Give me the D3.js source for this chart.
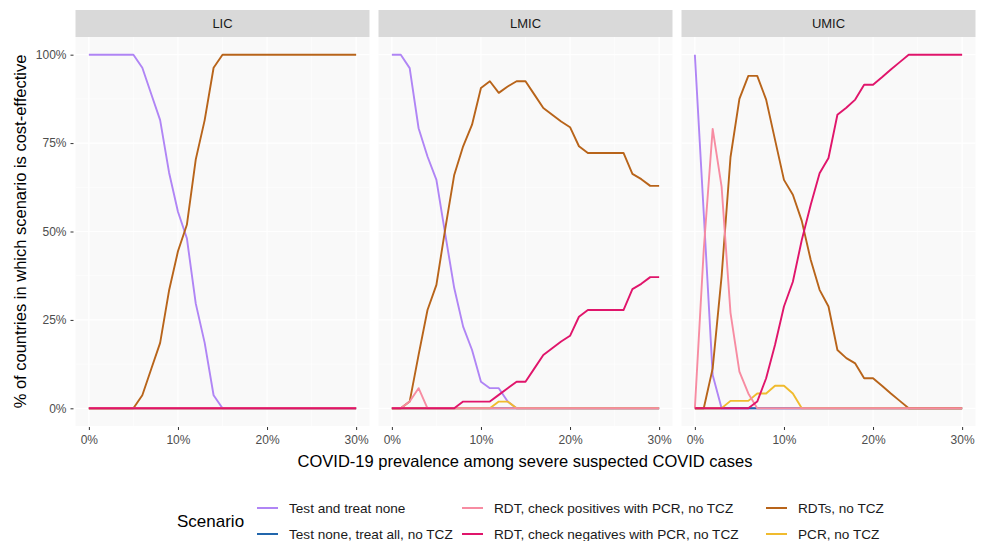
<!DOCTYPE html>
<html>
<head>
<meta charset="utf-8">
<script src="https://cdn.jsdelivr.net/npm/d3@7"></script>
<style>
  body { margin: 0; background: #fff; }
  svg { font-family: "Liberation Sans", Arial, sans-serif; }
</style>
</head>
<body>
<svg id="chart" width="984" height="541"></svg>
<script>
// prevalence values (%) along the x axis
var prevalence = [0, 1, 2, 3, 4, 5, 6, 7, 8, 9, 10, 11, 12, 13, 14, 15,
                  16, 17, 18, 19, 20, 21, 22, 23, 24, 25, 26, 27, 28, 29, 30];
var panels = ["LIC", "LMIC", "UMIC"];
var scenarios = [
  "Test and treat none",
  "Test none, treat all, no TCZ",
  "RDT, check positives with PCR, no TCZ",
  "RDT, check negatives with PCR, no TCZ",
  "RDTs, no TCZ",
  "PCR, no TCZ"
];
var xTicks = [0, 10, 20, 30];
var yTicks = [0, 25, 50, 75, 100];

// % of countries, one array per panel and scenario
var licNone = [100, 100, 100, 100, 100, 100, 96.3, 88.9, 81.5, 66.7, 55.6, 48.1, 29.6, 18.5, 3.7, 0,
               0, 0, 0, 0, 0, 0, 0, 0, 0, 0, 0, 0, 0, 0, 0];
var licRdt = [0, 0, 0, 0, 0, 0, 3.7, 11.1, 18.5, 33.3, 44.4, 51.9, 70.4, 81.5, 96.3, 100,
              100, 100, 100, 100, 100, 100, 100, 100, 100, 100, 100, 100, 100, 100, 100];
var licZero = [0, 0, 0, 0, 0, 0, 0, 0, 0, 0, 0, 0, 0, 0, 0, 0,
               0, 0, 0, 0, 0, 0, 0, 0, 0, 0, 0, 0, 0, 0, 0];

var lmicNone = [100, 100, 96.2, 79.2, 71.2, 64.6, 49.1, 34, 23.1, 16.5, 7.5, 5.7, 5.7, 1.9, 0, 0,
                0, 0, 0, 0, 0, 0, 0, 0, 0, 0, 0, 0, 0, 0, 0];
var lmicTreatAll = [0, 0, 0, 0, 0, 0, 0, 0, 0, 0, 0, 0, 0, 0, 0, 0,
                    0, 0, 0, 0, 0, 0, 0, 0, 0, 0, 0, 0, 0, 0, 0];
var lmicPos = [0, 0, 1.9, 5.7, 0, 0, 0, 0, 0, 0, 0, 0, 0, 0, 0, 0,
               0, 0, 0, 0, 0, 0, 0, 0, 0, 0, 0, 0, 0, 0, 0];
var lmicNeg = [0, 0, 0, 0, 0, 0, 0, 0, 1.9, 1.9, 1.9, 1.9, 3.8, 5.7, 7.5, 7.5,
               11.3, 15.1, 17, 18.9, 20.5, 25.9, 27.8, 27.8, 27.8, 27.8, 27.8, 33.7, 35.2, 37.1, 37.1];
var lmicRdt = [0, 0, 1.9, 15.1, 27.8, 34.9, 50.9, 66, 74.1, 80.2, 90.6, 92.5, 89.2, 91, 92.5, 92.5,
               88.7, 84.9, 83, 81.1, 79.5, 74.1, 72.2, 72.2, 72.2, 72.2, 72.2, 66.3, 64.8, 62.9, 62.9];
var lmicPcr = [0, 0, 0, 0, 0, 0, 0, 0, 0, 0, 0, 0, 1.9, 1.9, 0, 0,
               0, 0, 0, 0, 0, 0, 0, 0, 0, 0, 0, 0, 0, 0, 0];

var umicNone = [100, 55, 9.4, 0, 0, 0, 0, 0, 0, 0, 0, 0, 0, 0, 0, 0,
                0, 0, 0, 0, 0, 0, 0, 0, 0, 0, 0, 0, 0, 0, 0];
var umicTreatAll = [0, 0, 0, 0, 0, 0, 0, 0, 0, 0, 0, 0, 0, 0, 0, 0,
                    0, 0, 0, 0, 0, 0, 0, 0, 0, 0, 0, 0, 0, 0, 0];
var umicPos = [0, 45, 79, 62.7, 27, 10.4, 4.2, 0, 0, 0, 0, 0, 0, 0, 0, 0,
               0, 0, 0, 0, 0, 0, 0, 0, 0, 0, 0, 0, 0, 0, 0];
var umicNeg = [0, 0, 0, 0, 0, 0, 0, 1.9, 8.5, 18, 28.8, 35.8, 47.6, 57.5, 66.5, 70.8,
               83, 85, 87.3, 91.5, 91.5, 93.6, 95.8, 97.9, 100, 100, 100, 100, 100, 100, 100];
var umicRdt = [0, 0, 11.3, 37.3, 71, 87.5, 94, 94, 87.3, 75.9, 64.6, 60.4, 53, 42, 33.5, 28.8,
               16.5, 14.2, 12.7, 8.5, 8.5, 6.4, 4.2, 2.1, 0, 0, 0, 0, 0, 0, 0];
var umicPcr = [0, 0, 0, 0, 2.1, 2.1, 2.1, 4.2, 4.2, 6.4, 6.4, 4.2, 0, 0, 0, 0,
               0, 0, 0, 0, 0, 0, 0, 0, 0, 0, 0, 0, 0, 0, 0];

// values per panel, in scenario order
var panelValues = {
  LIC: [licNone, licZero, licZero, licZero, licRdt, licZero],
  LMIC: [lmicNone, lmicTreatAll, lmicPos, lmicNeg, lmicRdt, lmicPcr],
  UMIC: [umicNone, umicTreatAll, umicPos, umicNeg, umicRdt, umicPcr]
};

var colors = ["#b085f5", "#2166ac", "#f78ca2", "#e0156b", "#b8641a", "#f0bb2e"];
// order the lines are painted in (last is on top)
var drawOrder = [0, 1, 5, 4, 2, 3];

var svg = d3.select("#chart");
var panelLeft = 75.5, panelWidth = 294, panelGap = 9;
var plotTop = 37, plotBottom = 426, stripTop = 10;

var y = d3.scaleLinear().domain([-5, 105]).range([plotBottom, plotTop]);

panels.forEach(function (name, i) {
  var x0 = panelLeft + i * (panelWidth + panelGap);
  var x = d3.scaleLinear().domain([-1.5, 31.5]).range([x0, x0 + panelWidth]);
  var g = svg.append("g");

  // strip
  g.append("rect").attr("x", x0).attr("y", stripTop)
    .attr("width", panelWidth).attr("height", plotTop - stripTop)
    .attr("fill", "#d9d9d9");
  g.append("text").attr("x", x0 + panelWidth / 2).attr("y", (stripTop + plotTop) / 2)
    .attr("dy", "0.35em").attr("text-anchor", "middle")
    .attr("font-size", 13).attr("fill", "#1a1a1a").text(name);

  // panel background + grid
  g.append("rect").attr("x", x0).attr("y", plotTop)
    .attr("width", panelWidth).attr("height", plotBottom - plotTop)
    .attr("fill", "#f9f9f9");
  [12.5, 37.5, 62.5, 87.5].forEach(function (v) {
    g.append("line").attr("x1", x0).attr("x2", x0 + panelWidth)
      .attr("y1", y(v)).attr("y2", y(v)).attr("stroke", "#fff").attr("stroke-width", 0.6);
  });
  [5, 15, 25].forEach(function (v) {
    g.append("line").attr("x1", x(v)).attr("x2", x(v))
      .attr("y1", plotTop).attr("y2", plotBottom).attr("stroke", "#fff").attr("stroke-width", 0.6);
  });
  yTicks.forEach(function (v) {
    g.append("line").attr("x1", x0).attr("x2", x0 + panelWidth)
      .attr("y1", y(v)).attr("y2", y(v)).attr("stroke", "#fff").attr("stroke-width", 1.2);
  });
  xTicks.forEach(function (v) {
    g.append("line").attr("x1", x(v)).attr("x2", x(v))
      .attr("y1", plotTop).attr("y2", plotBottom).attr("stroke", "#fff").attr("stroke-width", 1.2);
  });

  // lines
  var line = d3.line()
    .x(function (d, j) { return x(prevalence[j]); })
    .y(function (d) { return y(d); });
  drawOrder.forEach(function (s) {
    g.append("path").datum(panelValues[name][s])
      .attr("d", line).attr("fill", "none")
      .attr("stroke", colors[s]).attr("stroke-width", 1.9)
      .attr("stroke-linejoin", "round");
  });

  // x axis
  var xAxis = d3.axisBottom(x).tickValues(xTicks).tickSize(3).tickPadding(5)
    .tickFormat(function (d) { return d + "%"; });
  var xg = g.append("g").attr("transform", "translate(0," + (plotBottom + 1) + ")").call(xAxis);
  xg.select(".domain").remove();
  xg.selectAll("line").attr("stroke", "#333");
  xg.selectAll("text").attr("font-size", 12).attr("fill", "#4d4d4d")
    .attr("font-family", "Liberation Sans, Arial, sans-serif");

  if (i === 0) {
    var yAxis = d3.axisLeft(y).tickValues(yTicks).tickSize(3).tickPadding(4)
      .tickFormat(function (d) { return d + "%"; });
    var yg = g.append("g").attr("transform", "translate(" + (x0 - 2) + ",0)").call(yAxis);
    yg.select(".domain").remove();
    yg.selectAll("line").attr("stroke", "#333");
    yg.selectAll("text").attr("font-size", 12).attr("fill", "#4d4d4d")
      .attr("font-family", "Liberation Sans, Arial, sans-serif");
  }
});

// axis titles
svg.append("text").attr("x", 525).attr("y", 467).attr("text-anchor", "middle")
  .attr("font-size", 16.5).attr("fill", "#000")
  .text("COVID-19 prevalence among severe suspected COVID cases");
svg.append("text").attr("transform", "translate(26," + ((plotTop + plotBottom) / 2) + ") rotate(-90)")
  .attr("text-anchor", "middle").attr("font-size", 16.5).attr("fill", "#000")
  .text("% of countries in which scenario is cost-effective");

// legend
var legend = svg.append("g");
legend.append("text").attr("x", 177).attr("y", 521).attr("dy", "0.35em")
  .attr("font-size", 17).attr("fill", "#000").text("Scenario");
var colX = [257, 462, 766];
var rowY = [508, 534];
scenarios.forEach(function (s, k) {
  var cx = colX[Math.floor(k / 2)], cy = rowY[k % 2];
  legend.append("line").attr("x1", cx).attr("x2", cx + 21)
    .attr("y1", cy).attr("y2", cy).attr("stroke", colors[k]).attr("stroke-width", 2);
  legend.append("text").attr("x", cx + 32).attr("y", cy).attr("dy", "0.35em")
    .attr("font-size", 13.6).attr("fill", "#1a1a1a").text(s);
});
</script>
</body>
</html>
